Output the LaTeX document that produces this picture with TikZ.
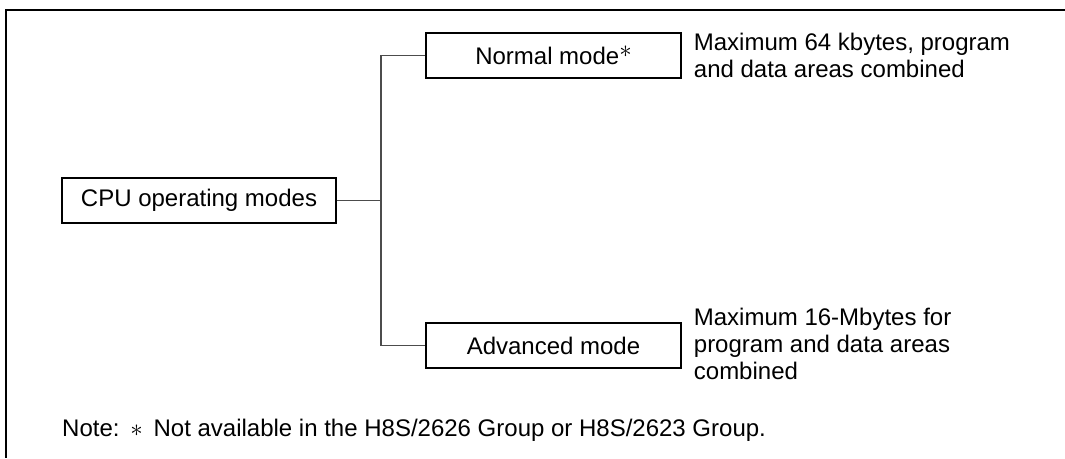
\documentclass[tikz,border=0pt]{standalone}
\usepackage{fontspec}
\setmainfont{Liberation Sans}
\begin{document}
\begin{tikzpicture}[x=1pt,y=-1pt,
    modebox/.style={draw, line width=1.4pt, minimum height=45pt, inner sep=0pt,
      font=\fontsize{24}{27}\selectfont},
    desc/.style={anchor=west, align=left, inner sep=0pt,
      font=\fontsize{24}{27}\selectfont},
    branch/.style={draw=black!70, line width=1.2pt}]
    \useasboundingbox (0,0) rectangle (1065,458);

    % frame, only top and left edges are visible
    \draw[line width=2pt] (1065,10) -- (6,10) -- (6,458);

    % mode boxes
    \node[modebox, minimum width=274pt] (cpu) at (199,200.5) {CPU operating modes};
    \node[modebox, minimum width=255pt] (normal) at (553.5,55.5) {Normal mode\raisebox{0.6ex}{$\ast$}};
    \node[modebox, minimum width=255pt] (advanced) at (553.5,345.5) {Advanced mode};

    % descriptions beside the boxes
    \node[desc] (normaltxt) at ([xshift=12pt]normal.east) {Maximum 64 kbytes, program\\and data areas combined};
    \node[desc] (advancedtxt) at ([xshift=12pt,yshift=2pt]advanced.east) {Maximum 16-Mbytes for\\program and data areas\\combined};

    % tree branches
    \coordinate (fork) at (381,200.5);
    \draw[branch] (cpu.east) -- (fork);
    \draw[branch] (normal.west) -| (fork) |- (advanced.west);

    % footnote
    \node[desc, anchor=base west] (note) at (62,436) {Note:\hspace{0.45em}$\ast$\hspace{0.45em}Not available in the H8S/2626 Group or H8S/2623 Group.};
\end{tikzpicture}
\end{document}
